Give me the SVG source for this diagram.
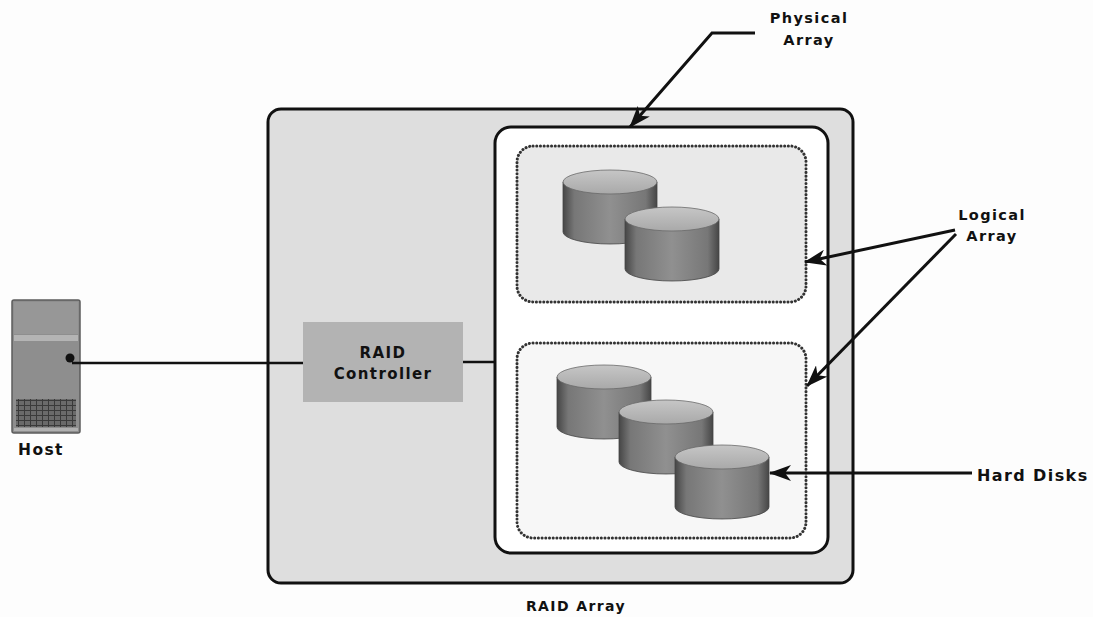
<svg xmlns="http://www.w3.org/2000/svg" width="1093" height="617" viewBox="0 0 1093 617">
  <style>
    .lbl { font-family: "DejaVu Sans", Verdana, sans-serif; font-weight: bold; fill: #111; letter-spacing: 1.4px; }
    .box { stroke: #111; stroke-width: 3; }
    .dots { fill: none; stroke: #333; stroke-width: 3; stroke-dasharray: 0.1 3.6; stroke-linecap: round; }
    .wire { stroke: #111; stroke-width: 2.5; fill: none; }
    .ptr { stroke: #111; stroke-width: 3; fill: none; marker-end: url(#head); }
    .disk-side { fill: url(#cyl); stroke: #444; stroke-width: 0.8; }
    .disk-top { fill: url(#cap); stroke: #6a6a6a; stroke-width: 0.8; }
  </style>
  <defs>
    <marker id="head" viewBox="0 0 22 16" refX="21" refY="8" markerWidth="22" markerHeight="16" markerUnits="userSpaceOnUse" orient="auto">
      <path d="M0,0 L22,8 L0,16 L6,8 Z" fill="#111"/>
    </marker>
    <linearGradient id="cyl" x1="0" y1="0" x2="1" y2="0">
      <stop offset="0" stop-color="#464646"/>
      <stop offset="0.12" stop-color="#777777"/>
      <stop offset="0.5" stop-color="#909090"/>
      <stop offset="0.88" stop-color="#777777"/>
      <stop offset="1" stop-color="#464646"/>
    </linearGradient>
    <linearGradient id="cap" x1="0" y1="0" x2="0" y2="1">
      <stop offset="0" stop-color="#c6c6c6"/>
      <stop offset="1" stop-color="#a9a9a9"/>
    </linearGradient>
    <pattern id="grille" width="6" height="5" patternUnits="userSpaceOnUse">
      <rect width="6" height="5" fill="#6a6a6a"/>
      <path d="M0,0.5 H6 M0.5,0 V5" stroke="#3a3a3a" stroke-width="1"/>
    </pattern>
    <g id="disk">
      <path class="disk-side" d="M-47,0 V50 A47,12 0 0 0 47,50 V0 Z"/>
      <ellipse class="disk-top" cx="0" cy="0" rx="47" ry="12"/>
    </g>
  </defs>

  <rect width="1093" height="617" fill="#fdfdfd"/>

  <!-- Host server -->
  <g id="host">
    <rect x="12" y="300" width="68" height="133" rx="2" fill="#8e8e8e" stroke="#5c5c5c" stroke-width="1.5"/>
    <rect x="14" y="302" width="64" height="32" fill="#979797"/>
    <rect x="14" y="335" width="64" height="6" fill="#b4b4b4"/>
    <rect x="16" y="399" width="60" height="28" fill="url(#grille)"/>
    <rect x="14" y="428" width="64" height="3" fill="#b0b0b0"/>
    <circle cx="70" cy="358" r="4.5" fill="#111"/>
    <text class="lbl" x="41" y="455" font-size="15.5" text-anchor="middle">Host</text>
  </g>

  <!-- RAID array enclosure -->
  <g id="raid-array">
    <rect class="box" x="268" y="109" width="585" height="474" rx="13" fill="#dedede"/>
    <text class="lbl" x="576" y="611" font-size="14" text-anchor="middle" letter-spacing="1px">RAID Array</text>
  </g>

  <!-- Physical array -->
  <g id="physical-array">
    <rect class="box" x="495" y="127" width="333" height="426" rx="16" fill="#ffffff"/>
  </g>

  <!-- Logical arrays -->
  <g id="logical-array-1">
    <rect x="517" y="146" width="289" height="156" rx="16" fill="#e9e9e9"/>
    <rect class="dots" x="517" y="146" width="289" height="156" rx="16"/>
    <use href="#disk" x="610" y="182"/>
    <use href="#disk" x="672" y="219"/>
  </g>
  <g id="logical-array-2">
    <rect x="517" y="343" width="289" height="195" rx="16" fill="#f7f7f7"/>
    <rect class="dots" x="517" y="343" width="289" height="195" rx="16"/>
    <use href="#disk" x="604" y="377"/>
    <use href="#disk" x="666" y="412"/>
    <use href="#disk" x="722" y="457"/>
  </g>

  <!-- RAID controller -->
  <g id="raid-controller">
    <rect x="303" y="322" width="160" height="80" fill="#b3b3b3"/>
    <text class="lbl" x="383" y="358" font-size="15" text-anchor="middle" letter-spacing="0.5px">RAID</text>
    <text class="lbl" x="383" y="379" font-size="15" text-anchor="middle" letter-spacing="0.5px">Controller</text>
  </g>

  <!-- Callout labels -->
  <g id="label-physical">
    <text class="lbl" x="809" y="23" font-size="14.5" text-anchor="middle">Physical</text>
    <text class="lbl" x="809" y="45" font-size="14.5" text-anchor="middle">Array</text>
  </g>
  <g id="label-logical">
    <text class="lbl" x="992" y="220" font-size="14.5" text-anchor="middle">Logical</text>
    <text class="lbl" x="992" y="241" font-size="14.5" text-anchor="middle">Array</text>
  </g>
  <g id="label-disks">
    <text class="lbl" x="977" y="481" font-size="16">Hard Disks</text>
  </g>

  <!-- Connectors -->
  <g id="connectors">
    <line class="wire" x1="72" y1="363" x2="303" y2="363"/>
    <line class="wire" x1="463" y1="362" x2="495" y2="362"/>
    <polyline class="ptr" points="755,33 712,33 630,127"/>
    <line class="ptr" x1="955" y1="230" x2="805" y2="262"/>
    <line class="ptr" x1="956" y1="234" x2="807" y2="386"/>
    <line class="ptr" x1="972" y1="473" x2="770" y2="473"/>
  </g>
</svg>
